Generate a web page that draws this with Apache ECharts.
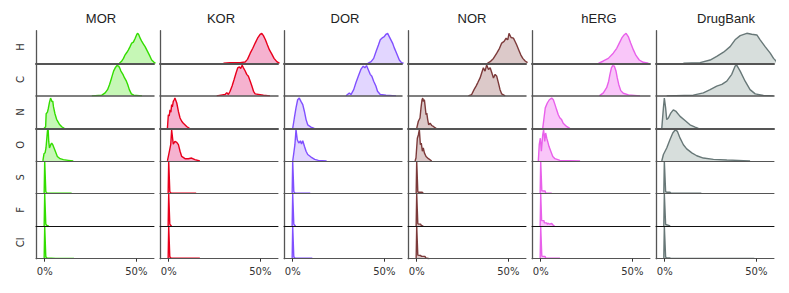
<!DOCTYPE html>
<html><head><meta charset="utf-8">
<script src="https://cdn.jsdelivr.net/npm/echarts@6/dist/echarts.min.js"></script>
<style>html,body{margin:0;padding:0;background:#fff}#c{width:789px;height:293px}</style>
</head><body><div id="c"></div>
<script>
// ---------- categories / ticks ----------
const DATASETS = ['MOR', 'KOR', 'DOR', 'NOR', 'hERG', 'DrugBank'];
const ATOMS = ['H', 'C', 'N', 'O', 'S', 'F', 'Cl'];
const TICK_VALUES = [0, 50];
const TICK_LABELS = ['0%', '50%'];

// ---------- density curves: [percent, relative height] ----------
const MOR_H = [[40.8,0],[42.1,0.07],[43.0,0.15],[43.9,0.26],[44.8,0.33],[45.7,0.41],[46.6,0.51],[47.5,0.62],[48.4,0.65],[49.4,0.77],[50.3,0.89],[50.8,0.92],[51.4,0.87],[52.1,0.77],[53.0,0.67],[53.9,0.59],[54.8,0.51],[55.7,0.41],[56.6,0.31],[57.5,0.21],[58.4,0.10],[59.7,0.03],[60.5,0]];
const MOR_C = [[25.7,0],[31.2,0.02],[33.0,0.09],[34.3,0.19],[35.4,0.35],[36.5,0.55],[37.6,0.76],[38.7,0.88],[39.5,0.93],[40.4,0.91],[40.9,0.86],[41.6,0.76],[42.7,0.66],[43.6,0.55],[44.6,0.45],[45.3,0.35],[46.2,0.19],[47.3,0.06],[48.6,0.02],[53.1,0]];
const MOR_N = [[-0.4,0],[0.5,0.05],[0.8,0.45],[1.5,0.5],[2.0,0.62],[2.6,0.8],[3.2,0.93],[3.6,0.88],[4.0,0.82],[4.4,0.84],[4.8,0.66],[5.6,0.45],[6.5,0.28],[8.0,0.13],[9.3,0.05],[10.7,0]];
const MOR_O = [[-1.0,0],[-0.4,0.22],[0.2,0.25],[0.7,0.4],[1.5,0.93],[1.9,0.96],[2.2,0.6],[2.6,0.4],[3.3,0.5],[3.8,0.55],[4.4,0.5],[5.1,0.4],[5.8,0.3],[6.9,0.14],[8.4,0.07],[10.2,0.04],[12.9,0.02],[15.6,0]];
const MOR_S = [[-0.3,0],[0,1],[0.6,0.06],[1.2,0.02],[5,0.01],[10,0.01],[14.7,0.01],[15,0]];
const MOR_F = [[-0.3,0],[0,1],[0.6,0.06],[1.2,0.02],[2.2,0.008],[2.4,0]];
const MOR_Cl = [[-0.3,0],[0,1],[0.6,0.06],[1.2,0.02],[6,0.01],[12,0.01],[16,0.01],[16.3,0]];

const KOR_H = [[29.9,0],[33.5,0.02],[39,0.02],[41.7,0.04],[43.0,0.12],[44.5,0.31],[45.9,0.46],[47.2,0.62],[48.5,0.77],[49.9,0.89],[50.8,0.92],[51.7,0.85],[52.8,0.72],[53.9,0.56],[55.0,0.41],[56.3,0.28],[57.5,0.15],[59.0,0.05],[59.9,0.02],[60.5,0]];
const KOR_C = [[26.2,0],[30.8,0.04],[31.7,0.1],[32.6,0.04],[33.5,0.14],[34.6,0.3],[35.7,0.5],[36.8,0.71],[37.7,0.86],[38.6,0.89],[39.3,0.84],[40.1,0.94],[40.8,0.86],[41.7,0.77],[42.6,0.66],[43.5,0.6],[44.5,0.45],[45.4,0.3],[46.3,0.14],[47.2,0.06],[51.7,0.02],[55.3,0]];
const KOR_N = [[-0.7,0],[-0.2,0.42],[0.3,0.38],[0.7,0.57],[1.2,0.5],[1.6,0.73],[2.0,0.66],[2.5,0.83],[3.0,0.88],[3.4,0.93],[3.9,0.86],[4.4,0.78],[5.3,0.52],[6.2,0.32],[7.1,0.22],[8.0,0.16],[9.8,0.06],[11.3,0]];
const KOR_O = [[-0.7,0],[0.4,0.3],[1.1,0.5],[1.6,0.96],[2.2,0.66],[2.5,0.52],[3.4,0.6],[4.4,0.57],[5.3,0.5],[6.2,0.3],[7.1,0.14],[8.9,0.07],[10.7,0.07],[12.5,0.09],[14.3,0.04],[17,0]];
const KOR_S = [[-0.3,0],[0,1],[0.6,0.06],[1.2,0.02],[5,0.012],[10,0.012],[15,0.012],[15.3,0]];
const KOR_F = [[-0.3,0],[0,1],[0.6,0.06],[1.2,0.02],[1.6,0]];
const KOR_Cl = [[-0.3,0],[0,1],[0.6,0.06],[1.2,0.02],[6,0.012],[12,0.012],[17,0.012],[17.3,0]];

const DOR_H = [[41,0],[42.8,0.05],[44.2,0.15],[45.5,0.36],[46.8,0.56],[47.8,0.72],[49.1,0.79],[50,0.82],[50.9,0.89],[51.8,0.92],[52.7,0.82],[53.6,0.72],[54.5,0.62],[55.4,0.48],[56.3,0.36],[57.2,0.24],[58.2,0.1],[59.4,0.02],[60.5,0]];
const DOR_C = [[29.1,0],[30.9,0.09],[31.8,0.04],[33.3,0.19],[34.5,0.4],[35.8,0.6],[37.2,0.81],[38.5,0.91],[39.4,0.86],[40.3,0.93],[41.2,0.81],[42.3,0.66],[43.2,0.6],[44.2,0.45],[45.4,0.3],[46.3,0.14],[47.8,0.04],[50.9,0.02],[56.4,0]];
const DOR_N = [[0,0],[0.9,0.32],[1.8,0.63],[2.7,0.88],[3.6,0.93],[4.5,0.83],[5.5,0.73],[6.4,0.52],[7.3,0.27],[8.2,0.11],[10,0.04],[11.8,0]];
const DOR_O = [[0,0],[0.5,0.2],[1.2,0.5],[1.8,0.96],[2.5,0.65],[3.3,0.55],[4.2,0.62],[4.8,0.52],[5.5,0.62],[6.4,0.45],[7.3,0.3],[8.2,0.2],[10,0.12],[12,0.05],[14,0.02],[18.5,0]];
const DOR_S = [[-0.3,0],[0,1],[0.6,0.06],[1.2,0.02],[5,0.012],[9.6,0.012],[9.9,0]];
const DOR_F = [[-0.3,0],[0,1],[0.6,0.06],[1.2,0.02],[1.6,0]];
const DOR_Cl = [[-0.3,0],[0,1],[0.6,0.06],[1.2,0.02],[6,0.012],[10.7,0.012],[11,0]];

const NOR_H = [[38.6,0],[40.1,0.05],[41.9,0.15],[43.7,0.31],[45.2,0.46],[46.4,0.62],[47.7,0.67],[48.8,0.77],[49.7,0.72],[50.4,0.92],[51.5,0.79],[52.8,0.77],[53.7,0.67],[54.6,0.56],[55.7,0.41],[56.8,0.26],[57.9,0.15],[59.2,0.07],[60.5,0.02]];
const NOR_C = [[28.2,0],[30.0,0.04],[31.3,0.19],[32.4,0.3],[33.3,0.4],[34.6,0.55],[35.5,0.71],[36.4,0.86],[37.3,0.76],[38.2,0.95],[39.2,0.81],[40.1,0.86],[41.0,0.71],[41.9,0.55],[42.8,0.66],[43.7,0.6],[44.6,0.4],[45.5,0.19],[46.4,0.06],[48.3,0]];
const NOR_N = [[0,0],[0.9,0.22],[1.8,0.32],[2.35,0.63],[2.9,0.88],[3.3,0.93],[3.6,0.83],[4.2,0.88],[4.5,0.73],[5.1,0.42],[5.5,0.47],[6.0,0.27],[6.55,0.11],[7.3,0.16],[8.2,0.09],[9.1,0.06],[10.6,0]];
const NOR_O = [[-0.9,0],[-0.4,0.09],[0.35,0.7],[0.9,0.8],[1.45,0.96],[2.0,0.5],[2.5,0.55],[3.1,0.3],[3.6,0.4],[4.2,0.25],[5.1,0.14],[6.4,0.07],[8.2,0]];
const NOR_S = [[-0.3,0],[0,1],[0.6,0.06],[0.9,0.04],[3.0,0.04],[3.6,0]];
const NOR_F = [[-0.3,0],[0,1],[0.6,0.08],[0.9,0.06],[2.2,0.06],[2.5,0.02],[3.6,0]];
const NOR_Cl = [[-0.3,0],[0,1],[0.6,0.11],[0.9,0.1],[2.2,0.1],[2.5,0.07],[4.5,0.07],[5,0.02],[6.9,0]];

const hERG_H = [[31.5,0],[34.2,0.07],[36.9,0.15],[39.6,0.31],[41.5,0.46],[42.9,0.62],[44.2,0.77],[45.5,0.87],[46.6,0.92],[47.8,0.82],[49.1,0.62],[50.6,0.41],[52.0,0.24],[53.8,0.1],[56,0.03],[58.8,0]];
const hERG_C = [[32,0],[34.2,0.09],[36.0,0.25],[37.1,0.45],[37.8,0.66],[38.6,0.86],[39.3,0.93],[40.2,0.91],[41.1,0.76],[41.8,0.55],[42.6,0.35],[43.7,0.16],[45.1,0.08],[47.9,0.03],[54.2,0]];
const hERG_N = [[1.1,0],[1.8,0.32],[2.5,0.63],[3.6,0.78],[4.7,0.88],[6.0,0.93],[6.9,0.88],[7.8,0.73],[8.7,0.57],[9.6,0.42],[10.5,0.32],[11.4,0.27],[12.3,0.16],[14.1,0.06],[15.9,0]];
const hERG_O = [[-1.3,0],[-0.8,0.5],[-0.2,0.7],[0.35,0.3],[1.1,0.8],[1.6,0.96],[2.2,0.6],[2.7,0.86],[3.3,0.7],[3.8,0.6],[4.5,0.45],[5.5,0.3],[6.6,0.14],[7.8,0.07],[10.5,0.02],[21.5,0]];
const hERG_S = [[-0.3,0],[0,1],[0.6,0.09],[1.1,0.08],[2.4,0.08],[2.7,0.02],[6,0.012],[6.3,0]];
const hERG_F = [[-0.3,0],[0,1],[0.5,0.17],[1.8,0.17],[2.0,0.1],[3.3,0.1],[3.6,0.06],[4.2,0.09],[4.8,0.06],[6.0,0.08],[6.6,0.04],[7.5,0]];
const hERG_Cl = [[-0.3,0],[0,1],[0.6,0.08],[1.1,0.07],[2.4,0.07],[2.7,0.02],[10.5,0.012],[10.8,0]];

const DrugBank_H = [[10.2,0],[19.3,0.02],[24.8,0.1],[28.4,0.21],[32.1,0.34],[35.7,0.51],[38.4,0.72],[41.2,0.85],[44.8,0.92],[47.5,0.89],[50.3,0.87],[52.1,0.72],[54.8,0.51],[57.6,0.31],[59.4,0.15],[61,0.05]];
const DrugBank_C = [[1.1,0],[15.6,0.02],[21.1,0.09],[24.8,0.19],[28.4,0.3],[31.2,0.35],[33.9,0.45],[36.6,0.66],[38.4,0.91],[39.3,0.94],[41.2,0.76],[43.9,0.45],[46.6,0.19],[49.4,0.06],[53.9,0.01],[59.4,0]];
const DrugBank_N = [[-1.6,0],[-0.7,0.63],[-0.2,0.93],[0.5,0.63],[1.1,0.27],[2.0,0.32],[3.3,0.47],[4.7,0.57],[6.2,0.52],[8.4,0.37],[11.1,0.24],[13.8,0.11],[16.6,0.04],[18.4,0]];
const DrugBank_O = [[-1.6,0],[-0.7,0.2],[1.1,0.4],[2.9,0.66],[4.4,0.86],[5.8,0.96],[6.9,0.91],[8.4,0.7],[10.2,0.5],[12.0,0.37],[14.8,0.25],[17.5,0.16],[21.1,0.09],[26.6,0.05],[33.9,0.03],[43,0.01],[46.6,0]];
const DrugBank_S = [[-0.5,0],[-0.2,1],[0.5,0.06],[1.1,0.04],[2.9,0.04],[3.3,0.015],[20,0.012],[20.3,0]];
const DrugBank_F = [[-0.5,0],[-0.2,1],[0.5,0.05],[2.6,0.015],[2.9,0]];
const DrugBank_Cl = [[-0.5,0],[-0.2,1],[0.5,0.05],[1.1,0.02],[2.9,0.02],[3.3,0.01],[48.9,0.01],[49.2,0]];

// lookup table built from the arrays above
const DENS = {
  MOR: {H: MOR_H, C: MOR_C, N: MOR_N, O: MOR_O, S: MOR_S, F: MOR_F, Cl: MOR_Cl},
  KOR: {H: KOR_H, C: KOR_C, N: KOR_N, O: KOR_O, S: KOR_S, F: KOR_F, Cl: KOR_Cl},
  DOR: {H: DOR_H, C: DOR_C, N: DOR_N, O: DOR_O, S: DOR_S, F: DOR_F, Cl: DOR_Cl},
  NOR: {H: NOR_H, C: NOR_C, N: NOR_N, O: NOR_O, S: NOR_S, F: NOR_F, Cl: NOR_Cl},
  hERG: {H: hERG_H, C: hERG_C, N: hERG_N, O: hERG_O, S: hERG_S, F: hERG_F, Cl: hERG_Cl},
  DrugBank: {H: DrugBank_H, C: DrugBank_C, N: DrugBank_N, O: DrugBank_O, S: DrugBank_S, F: DrugBank_F, Cl: DrugBank_Cl}
};

// ---------- styles / layout ----------
const LINE_COLORS = {MOR: '#33dd00', KOR: '#e8001c', DOR: '#8050ff', NOR: '#7c3a3a', hERG: '#e860ea', DrugBank: '#687878'};
const FILL_COLORS = {MOR: '#c6f7b6', KOR: '#f5b2cf', DOR: '#e2d6ff', NOR: '#dcc9c9', hERG: '#f9c6f9', DrugBank: '#d7dedc'};
const ROW_LINE_WIDTH = [2, 1.5, 2, 1, 1, 1, 1];
const ROW_LINE_COLOR = ['#555', '#555', '#555', '#555', '#555', '#111', '#555'];
const LAYOUT = {left0: 36, colStep: 124, colW: 118, top0: 30.7, rowH: 32.57};
const TITLE_X = [101, 221, 345, 472, 599, 726];
const TITLE_Y = 18.3;
const X_MIN = -4.75, X_MAX = 59.66;

const chart = echarts.init(document.getElementById('c'), null, {renderer: 'svg'});
const grids = [], xAxes = [], yAxes = [], series = [];

DATASETS.forEach((ds, c) => {
  ATOMS.forEach((atom, r) => {
    const idx = grids.length;
    const isBottom = r === ATOMS.length - 1;
    grids.push({left: LAYOUT.left0 + c * LAYOUT.colStep, top: LAYOUT.top0 + r * LAYOUT.rowH,
      width: LAYOUT.colW, height: LAYOUT.rowH, containLabel: false});
    xAxes.push({
      type: 'value', gridIndex: idx, min: X_MIN, max: X_MAX, z: 10,
      axisLine: {show: true, onZero: false, lineStyle: {color: ROW_LINE_COLOR[r], width: ROW_LINE_WIDTH[r]}},
      axisTick: {show: isBottom, customValues: TICK_VALUES, length: 3, lineStyle: {color: '#333', width: 1}},
      axisLabel: {show: isBottom, customValues: TICK_VALUES, margin: 8,
        formatter: v => TICK_LABELS[TICK_VALUES.indexOf(v)] || '',
        fontFamily: 'DejaVu Sans', fontSize: 10, color: '#333'},
      splitLine: {show: false}
    });
    yAxes.push({
      type: 'value', gridIndex: idx, min: 0, max: 1, z: 10,
      axisLine: {show: true, onZero: false, lineStyle: {color: '#555', width: 1.3}},
      axisTick: {show: false}, axisLabel: {show: false}, splitLine: {show: false},
      name: c === 0 ? atom : '', nameLocation: 'middle', nameRotate: 90, nameGap: 11,
      nameTextStyle: {fontFamily: 'DejaVu Sans', fontSize: 10, color: '#333'}
    });
    series.push({
      type: 'line', xAxisIndex: idx, yAxisIndex: idx, data: DENS[ds][atom],
      symbol: 'none', showSymbol: false, smooth: false, clip: true, silent: true,
      lineStyle: {color: LINE_COLORS[ds], width: 1.4},
      areaStyle: {color: FILL_COLORS[ds], opacity: 1}
    });
  });
});

const titles = DATASETS.map((ds, c) => ({
  type: 'text', x: TITLE_X[c], y: TITLE_Y, silent: true,
  style: {text: ds, fontFamily: 'Liberation Sans', fontSize: 13, fill: '#222', align: 'center', verticalAlign: 'middle'}
}));

chart.setOption({
  animation: false,
  backgroundColor: '#fff',
  grid: grids, xAxis: xAxes, yAxis: yAxes, series: series,
  graphic: titles
});
</script></body></html>
